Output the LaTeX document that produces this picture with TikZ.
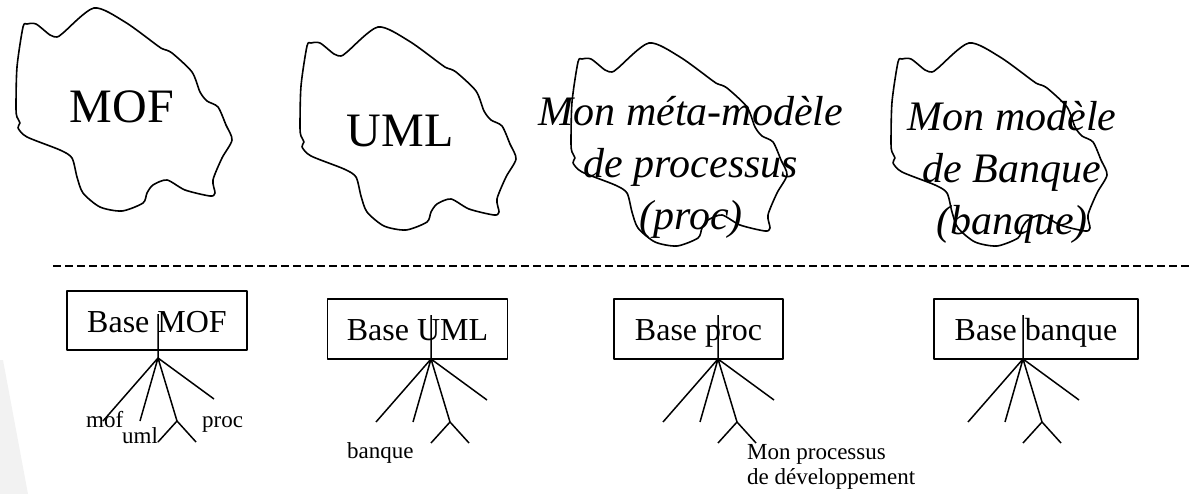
\documentclass[tikz,border=0pt]{standalone}
\usepackage{fontspec}
\setmainfont{Liberation Serif}
\usetikzlibrary{positioning}

\begin{document}
\begin{tikzpicture}[x=1pt, y=-1pt,
                    line join=round,
                    big/.style = {inner sep=0pt, font=\fontsize{48}{52}\selectfont},
                    meta/.style = {inner sep=0pt, align=center, font=\fontsize{42}{52}\selectfont\itshape},
                    base/.style = {draw, line width=1.3pt, minimum width=180, minimum height=59, inner sep=0pt,
                                   text height=25, text depth=2, font=\fontsize{32}{34}\selectfont},
                    leaf/.style = {inner sep=0pt, align=left, font=\fontsize{23}{25}\selectfont}
                    ]
\tikzset{
  blob/.pic={
    \draw[line width=1.6pt] plot[smooth cycle, tension=0.45] coordinates {
      (94,8) (125,22) (158,46) (163,49) (172,53) (192,72) (200,92) (207,101)
      (218,107) (226,125) (232,140) (222,158) (213,180) (215,193) (210,196)
      (185,190) (167,180) (153,185) (147,193) (143,203) (122,211) (100,207)
      (83,193) (77,177) (72,158) (60,150) (27,137) (18,128) (20,123) (17,117)
      (16,108) (17,67) (23,27) (27,24) (36,24) (50,35) (57,37) (63,33)};
  },
  tree/.pic={
    \draw[line width=1.5pt] (0,-44) -- (0,0) -- (-55,63)
      (0,0) -- (-18,63)
      (0,0) -- (19,63) -- (0,84)
      (19,63) -- (38,84)
      (0,0) -- (56,41);
  },
}

% faint background strip
\fill[black!5] (0,360) -- (3,360) -- (28,494) -- (0,494) -- cycle;
\useasboundingbox (0,0) rectangle (1193,494);

% meta-levels
\pic at (0,0) {blob};
\pic at (284,19) {blob};
\pic at (555,35) {blob};
\pic at (875,35) {blob};

\node[big, anchor=base] (mof) at (122,123) {MOF};
\node[big, anchor=base] (uml) at (400,147) {UML};
\node[meta, anchor=north] (proc) at (691,96) {Mon méta-modèle\\de processus\\(proc)};
\node[meta, anchor=north] (banque) at (1012,101) {Mon modèle\\de Banque\\(banque)};

\draw[line width=1.4pt, dash pattern=on 8pt off 4pt] (53,266) -- (1193,266);

% bases
\node[base] (bmof) at (157,320.5) {Base MOF};
\node[base, minimum height=60] (buml) at (417.5,329) {Base UML};
\node[base, minimum width=169, minimum height=60] (bproc) at (698.5,329) {Base proc};
\node[base, minimum width=204, minimum height=60] (bbanque) at (1036,329) {Base banque};

\coordinate (hmof) at (158,358);
\coordinate (huml) at (431,359);
\coordinate (hproc) at (718,359);
\coordinate (hbanque) at (1023,359);

\pic at (hmof) {tree};
\pic at (huml) {tree};
\pic at (hproc) {tree};
\pic at (hbanque) {tree};

\node[leaf, anchor=base west] (lmof) at (86,427) {mof};
\node[leaf, anchor=base west] (luml) at (122,443) {uml};
\node[leaf, anchor=base west] (lproc) at (202,427) {proc};
\node[leaf, anchor=base west] (lbanque) at (347,458) {banque};
\node[leaf, anchor=north west] (ldev) at (747,444) {Mon processus\\de développement};
\end{tikzpicture}
\end{document}
